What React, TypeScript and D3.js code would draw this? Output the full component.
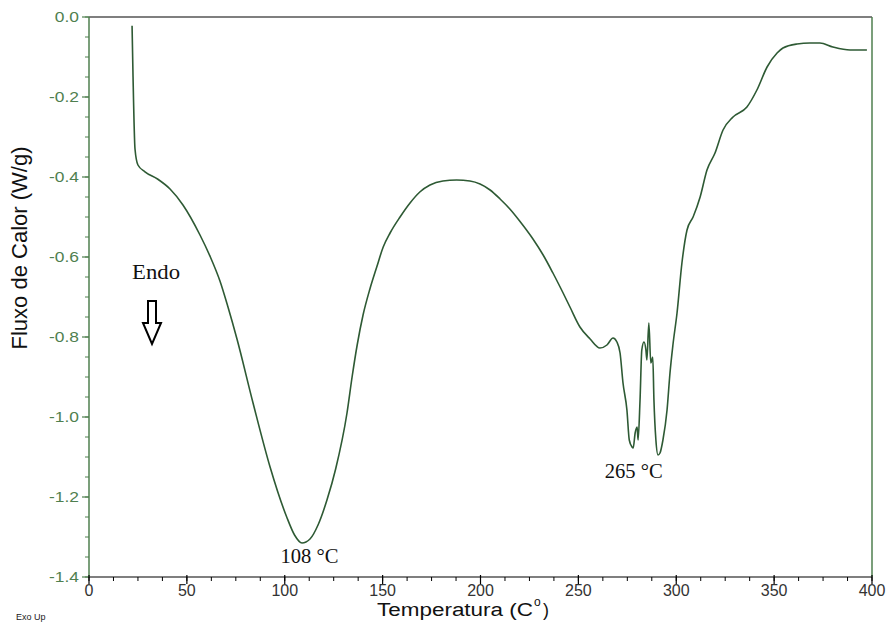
import React from "react";
import * as d3 from "d3";

const temps = [22, 22.5, 23.5, 25, 28.6, 35, 41.4, 48, 56.7, 62, 66.9, 71, 75.6, 83.8, 92.5, 101, 105, 108.8, 112.9, 117, 121.6, 126, 131.8, 134.4, 137, 140, 143.5, 147, 150.3, 153.8, 158.9, 164, 169, 174.2, 180.8, 187.8, 194.6, 204.9, 210, 215, 220, 226.8, 232, 237, 242.2, 245.7, 250.8, 256, 261, 264.6, 267.7, 269.7, 271.3, 272.8, 274.8, 276, 277.4, 278, 279, 280, 280.5, 281.5, 282.4, 283.5, 284.5, 285, 286, 287, 288, 288.6, 289.6, 290.7, 291.7, 293.2, 295.3, 296.8, 298.3, 300.4, 302.9, 305.5, 308.6, 312.2, 315.7, 319.8, 323.9, 329, 336.1, 341.2, 346.4, 351.5, 354.5, 361.7, 368.3, 373.4, 380, 388.8, 397.4];

const flux = [-0.022, -0.15, -0.33, -0.37, -0.387, -0.405, -0.43, -0.47, -0.545, -0.6, -0.66, -0.725, -0.805, -0.965, -1.125, -1.25, -1.295, -1.315, -1.305, -1.27, -1.207, -1.13, -0.99, -0.9, -0.82, -0.745, -0.68, -0.625, -0.575, -0.54, -0.5, -0.465, -0.4375, -0.42, -0.41, -0.4075, -0.41, -0.4325, -0.455, -0.48, -0.51, -0.555, -0.595, -0.64, -0.69, -0.725, -0.775, -0.805, -0.8275, -0.82, -0.8025, -0.8125, -0.84, -0.915, -0.9825, -1.0575, -1.075, -1.0775, -1.04, -1.025, -1.0575, -0.9575, -0.8325, -0.8125, -0.8325, -0.8575, -0.765, -0.865, -0.85, -0.9575, -1.0575, -1.095, -1.09, -1.0575, -0.9825, -0.89, -0.82, -0.74, -0.615, -0.5325, -0.5, -0.45, -0.3825, -0.34, -0.2825, -0.25, -0.225, -0.1825, -0.125, -0.09, -0.0775, -0.0675, -0.065, -0.065, -0.075, -0.0825, -0.0825];

const xTicks = [0, 50, 100, 150, 200, 250, 300, 350, 400];
const yTicks = [0, -0.2, -0.4, -0.6, -0.8, -1.0, -1.2, -1.4];

const peakTemps = [108, 265];
const peakFlux = [-1.315, -1.1];
const peakLabels = ["108 \u00B0C", "265 \u00B0C"];

export default function App() {
  const W = 886, H = 624;
  const left = 89, right = 872, top = 17, bottom = 577;
  const x = d3.scaleLinear().domain([0, 400]).range([left, right]);
  const y = d3.scaleLinear().domain([0, -1.4]).range([top, bottom]);
  const data = temps.map((t, i) => [t, flux[i]] as [number, number]);
  const line = d3.line<[number, number]>().x(d => x(d[0])).y(d => y(d[1])).curve(d3.curveMonotoneX);

  const green = "#4f7f4f";
  const lineColor = "#2e5a34";
  const xMinor = d3.range(0, 400.01, 12.5);
  const yMinor = d3.range(0, -1.4001, -0.05);
  const sans = "Liberation Sans, Arial, sans-serif";
  const serif = "Liberation Serif, Times New Roman, serif";
  const labelDx = [9, 26];
  const labelDy = [20, 21];

  return (
    <svg width={W} height={H} style={{ position: "absolute", left: 0, top: 0, background: "#fff" }}>
      <line x1={left} x2={right} y1={top} y2={top} stroke="#000" strokeWidth={1.2} />
      <line x1={left} x2={right} y1={bottom} y2={bottom} stroke="#000" strokeWidth={1.2} />
      <line x1={left} x2={left} y1={top} y2={bottom} stroke={green} strokeWidth={1.5} />
      <line x1={right} x2={right} y1={top} y2={bottom} stroke={green} strokeWidth={1.5} />

      {yMinor.map((v, i) => (
        <line key={"ym" + i} x1={left - 4} x2={left} y1={y(v)} y2={y(v)} stroke={green} strokeWidth={1} />
      ))}
      {yTicks.map((v) => (
        <g key={"yt" + v}>
          <line x1={left - 7} x2={left} y1={y(v)} y2={y(v)} stroke={green} strokeWidth={1.2} />
          <text x={left - 10} y={y(v) + 5} textAnchor="end" fontFamily={sans} fontSize={14.5} fill={green}
            transform={`translate(${left - 10},0) scale(1.2,1) translate(${-(left - 10)},0)`}>
            {v.toFixed(1)}
          </text>
        </g>
      ))}

      {xMinor.map((t, i) => (
        <line key={"xm" + i} x1={x(t)} x2={x(t)} y1={bottom} y2={bottom + 4} stroke="#000" strokeWidth={1} />
      ))}
      {xTicks.map((t) => (
        <g key={"xt" + t}>
          <line x1={x(t)} x2={x(t)} y1={bottom - 2} y2={bottom + 7} stroke="#000" strokeWidth={1.2} />
          <text x={x(t)} y={bottom + 19} textAnchor="middle" fontFamily={sans} fontSize={16} fill="#333">
            {t}
          </text>
        </g>
      ))}

      <path d={line(data) || ""} fill="none" stroke={lineColor} strokeWidth={1.6} strokeLinejoin="round" />

      <text transform={`translate(27,248) rotate(-90)`} textAnchor="middle" fontFamily={sans} fontSize={22} fill="#111">
        Fluxo de Calor (W/g)
      </text>
      <text x={533} y={616} textAnchor="end" fontFamily={sans} fontSize={18} fill="#111" textLength={156} lengthAdjust="spacingAndGlyphs">
        Temperatura  (C
      </text>
      <text x={534} y={606} fontFamily={sans} fontSize={12} fill="#111">o</text>
      <text x={543} y={616} fontFamily={sans} fontSize={18} fill="#111">)</text>
      <text x={16} y={620} fontFamily={sans} fontSize={9} fill="#222">Exo Up</text>

      {peakTemps.map((t, i) => (
        <text key={peakLabels[i]} x={x(t) + labelDx[i]} y={y(peakFlux[i]) + labelDy[i]} textAnchor="middle" fontFamily={serif} fontSize={20} fill="#111" textLength={58} lengthAdjust="spacingAndGlyphs">
          {peakLabels[i]}
        </text>
      ))}
      <text x={132} y={279} fontFamily={serif} fontSize={20} fill="#111" textLength={48} lengthAdjust="spacingAndGlyphs">Endo</text>
      <path d="M148,301 L156,301 L156,323 L161,323 L152,344 L143,323 L148,323 Z" fill="#fff" stroke="#000" strokeWidth={2} strokeLinejoin="miter" />
    </svg>
  );
}
